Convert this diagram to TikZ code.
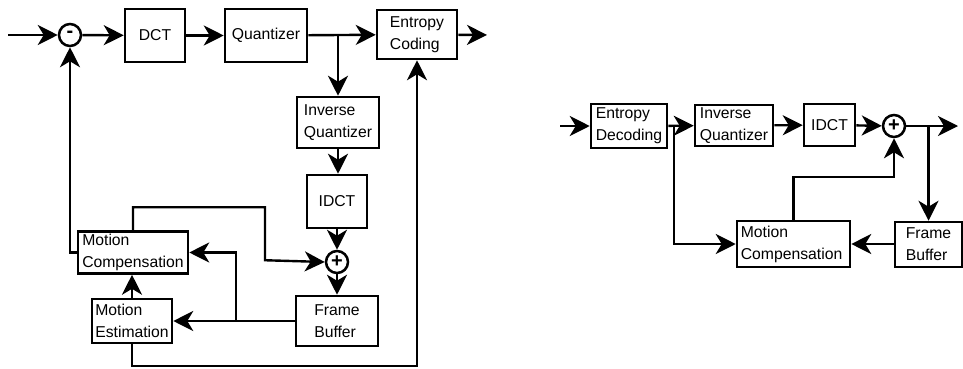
\documentclass[tikz,border=0pt]{standalone}
\usepackage{fontspec}
\setmainfont{Liberation Sans}
\usetikzlibrary{arrows.meta, positioning, calc}
\tikzset{
    blk/.style={rectangle, draw=black, line width=1.9pt, fill=white, inner sep=2pt, align=left, font=\fontsize{11.8}{16.5}\selectfont},
    sumnode/.style={circle, draw=black, line width=1.9pt, fill=white, minimum size=16.5pt, inner sep=0pt, font=\fontsize{15}{15}\selectfont\bfseries},
    arrow/.style={line width=1.8pt, -{Stealth[length=15pt, width=15pt, inset=4.5pt]}},
    link/.style={line width=1.8pt}
}

\begin{document}
\begin{tikzpicture}[x=0.75pt, y=-0.75pt]
        \useasboundingbox (0,0) rectangle (963,368);
        % encoder
        \coordinate (encin) at (8,35);
        \coordinate (encout) at (487,35);
        \node[sumnode] (minus) at (70,35) {\raisebox{1pt}{-}};
        \node[blk, minimum width=45pt, minimum height=39.75pt] (dct) at (155,35.5) {DCT};
        \node[blk, minimum width=61.5pt, minimum height=39.75pt] (quant) at (266,35.5) {Quantizer};
        \node[blk, minimum width=60pt, minimum height=36.75pt] (ec) at (417,34.5) {Entropy\\Coding};
        \node[blk, minimum width=61.5pt, minimum height=38.25pt] (iq) at (338,122.5) {Inverse\\Quantizer};
        \node[blk, minimum width=45pt, minimum height=39.75pt] (idct) at (337,201.5) {IDCT};
        \node[sumnode] (plus) at (337,262) {+};
        \node[blk, minimum width=61.5pt, minimum height=37.5pt] (fb) at (337,321) {Frame\\Buffer};
        \node[blk, minimum width=82.5pt, minimum height=30.75pt] (mc) at (133,252.5) {Motion\\Compensation};
        \node[blk, minimum width=60pt, minimum height=33pt] (me) at (132,321) {Motion\\Estimation};
        \draw[arrow] (encin) -- (minus);
        \draw[arrow] (minus) -- (dct);
        \draw[arrow] (dct) -- (quant);
        \draw[arrow] (quant) -- (ec);
        \draw[arrow] (ec) -- (encout);
        \draw[arrow] (iq.north |- quant.east) -- (iq.north);
        \draw[arrow] (iq.south) -- (iq.south |- idct.north);
        \draw[arrow] (idct) -- (plus);
        \draw[arrow] (plus) -- (fb);
        \draw[arrow] (mc.west) -| (minus.south);
        \draw[arrow] (mc.north) -- ++(0,-23) -| ++(132,53) -- (plus.west);
        \draw[arrow] (fb.west) -- (me.east);
        \draw[arrow] ($(fb.west)!0.484!(me.east)$) |- (mc.east);
        \draw[arrow] (me.north) -- (me.north |- mc.south);
        \draw[arrow] (me.south) -- ++(0,22) -| (ec.south);
        % decoder
        \coordinate (decin) at (560,126);
        \coordinate (decout) at (958,126);
        \node[blk, minimum width=57pt, minimum height=33pt] (ed) at (629,126) {Entropy\\Decoding};
        \node[blk, minimum width=58.5pt, minimum height=30.75pt] (riq) at (734,125.5) {Inverse\\Quantizer};
        \node[blk, minimum width=38.25pt, minimum height=31.5pt] (ridct) at (829.5,125) {IDCT};
        \node[sumnode] (rplus) at (894,126) {+};
        \node[blk, minimum width=50.25pt, minimum height=33.75pt] (rfb) at (928.5,244.5) {Frame\\Buffer};
        \node[blk, minimum width=84.75pt, minimum height=34.5pt, text width=79pt] (rmc) at (793.5,244) {Motion\\Compensation};
        \draw[arrow] (decin) -- (ed);
        \draw[arrow] (ed) -- (riq);
        \draw[arrow] (riq) -- (ridct);
        \draw[arrow] (ridct) -- (rplus);
        \draw[arrow] (rplus) -- (decout);
        \draw[arrow] (rfb.north |- rplus.east) -- (rfb.north);
        \draw[arrow] (rfb.west |- rmc.east) -- (rmc.east);
        \draw[arrow] ($(ed.east)+(6,0)$) |- (rmc.west);
        \draw[arrow] (rmc.north) -- ++(0,-43) -| (rplus.south);
    \end{tikzpicture}
\end{document}
